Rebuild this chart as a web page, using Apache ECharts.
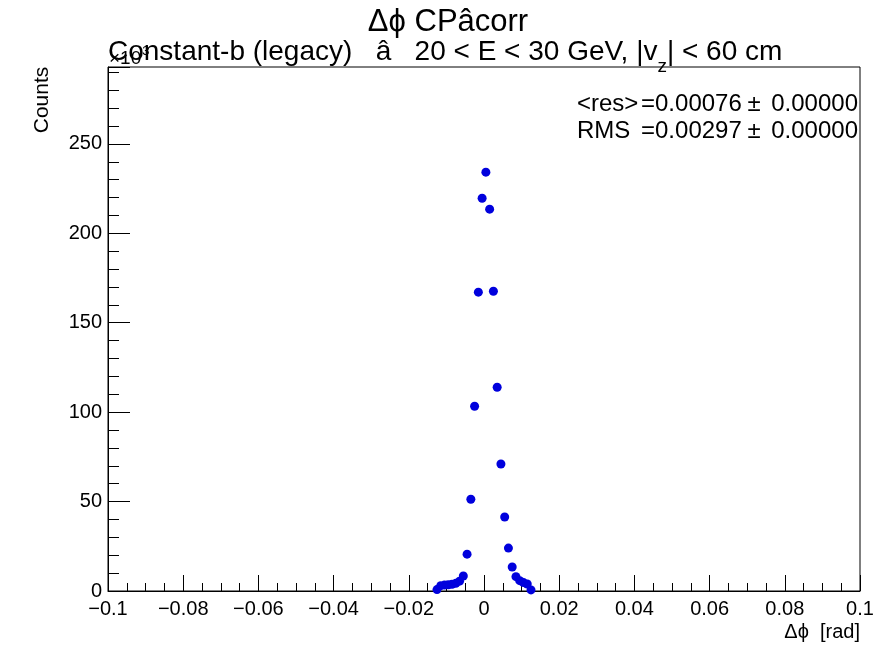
<!DOCTYPE html>
<html>
<head>
<meta charset="utf-8">
<script src="https://cdn.jsdelivr.net/npm/echarts@6/dist/echarts.min.js"></script>
<style>
  html, body { margin: 0; padding: 0; background: #fff; }
  #chart { width: 896px; height: 672px; }
</style>
</head>
<body>
<div id="chart"></div>
<script>
// bin centres (rad) and counts (x10^3)
var binCenters = [-0.0125, -0.0115, -0.0105, -0.0095, -0.0085, -0.0075, -0.0065, -0.0055,
    -0.0045, -0.0035, -0.0025, -0.0015, -0.0005, 0.0005, 0.0015, 0.0025, 0.0035, 0.0045,
    0.0055, 0.0065, 0.0075, 0.0085, 0.0095, 0.0105, 0.0115, 0.0125];
var counts = [0.8, 3.0, 3.3, 3.5, 3.8, 4.3, 5.5, 8.4,
    20.6, 51.3, 103.3, 167.1, 219.6, 234.2, 213.5, 167.6, 113.9, 71.0,
    41.4, 24.0, 13.4, 8.0, 5.8, 4.7, 3.9, 0.6];

var titleText = "\u0394\u03d5 CP\u00e2corr";
var subText = "Constant-b (legacy)   \u00e2   20 < E < 30 GeV, |v";
var subScript = "z";
var subTail = "| < 60 cm";
var statsNames = ["<res>", "RMS"];
var statsValues = ["=0.00076", "=0.00297"];
var statsErrors = ["0.00000", "0.00000"];

var FONT = '"Liberation Sans", Arial, Helvetica, sans-serif';

function textWidth(str, size) {
    var ctx = document.createElement("canvas").getContext("2d");
    ctx.font = size + "px " + FONT;
    return ctx.measureText(str).width;
}

function txt(x, y, s, size, align, valign, extra) {
    var el = {
        type: "text",
        x: x,
        y: y,
        z: 100,
        style: {
            text: s,
            font: size + "px " + FONT,
            fill: "#000",
            textAlign: align, align: align,
            textVerticalAlign: valign, verticalAlign: valign
        }
    };
    if (extra) for (var k in extra) el[k] = extra[k];
    return el;
}

var data = binCenters.map(function (x, i) { return [x, counts[i]]; });

var subW = textWidth(subText, 28);
var zW = textWidth(subScript, 19);

var graphics = [
    txt(448, 22, titleText, 31, "center", "middle"),
    txt(108, 52, subText, 28, "left", "middle"),
    txt(108 + subW, 67, subScript, 19, "left", "middle"),
    txt(108 + subW + zW, 52, subTail, 28, "left", "middle"),
    txt(109, 59, "\u00d710", 19, "left", "middle"),
    txt(110 + textWidth("\u00d710", 19), 51, "3", 13, "left", "middle"),
    txt(42, 100, "Counts", 21, "center", "middle", { rotation: Math.PI / 2 }),
    txt(860, 632, "\u0394\u03d5  [rad]", 20, "right", "middle")
];
for (var i = 0; i < statsNames.length; i++) {
    var yy = 104 + i * 27;
    graphics.push(txt(577, yy, statsNames[i], 24, "left", "middle"));
    graphics.push(txt(641, yy, statsValues[i], 24, "left", "middle"));
    graphics.push(txt(754, yy, "\u00b1", 24, "center", "middle"));
    graphics.push(txt(858, yy, statsErrors[i], 24, "right", "middle"));
}

var myChart = echarts.init(document.getElementById("chart"), null, { renderer: "canvas" });

var option = {
    animation: false,
    backgroundColor: "#fff",
    grid: {
        left: 108, right: 36, top: 67, bottom: 81,
        show: true, borderColor: "#000", borderWidth: 1
    },
    xAxis: {
        type: "value",
        min: -0.1, max: 0.1, interval: 0.02,
        axisLine: { show: true, onZero: false, lineStyle: { color: "#000", width: 1 } },
        axisTick: { show: true, inside: true, length: 16, lineStyle: { color: "#000" } },
        minorTick: { show: true, splitNumber: 4, length: 8, lineStyle: { color: "#000" } },
        splitLine: { show: false },
        axisLabel: {
            color: "#000", fontSize: 20, fontFamily: FONT, margin: 8,
            formatter: function (v) {
                var s = String(parseFloat(v.toFixed(3)));
                return s.replace("-", "\u2212");
            }
        }
    },
    yAxis: {
        type: "value",
        min: 0, max: 293, interval: 50,
        axisLine: { show: true, onZero: false, lineStyle: { color: "#000", width: 1 } },
        axisTick: { show: true, inside: true, length: 22, lineStyle: { color: "#000" } },
        minorTick: { show: true, splitNumber: 5, length: 11, lineStyle: { color: "#000" } },
        splitLine: { show: false },
        axisLabel: {
            color: "#000", fontSize: 20, fontFamily: FONT, margin: 6,
            showMaxLabel: false
        }
    },
    series: [{
        type: "scatter",
        data: data,
        symbol: "circle",
        symbolSize: 9,
        itemStyle: { color: "#0000dd", opacity: 1 }
    }],
    graphic: graphics
};

myChart.setOption(option);
</script>
</body>
</html>
